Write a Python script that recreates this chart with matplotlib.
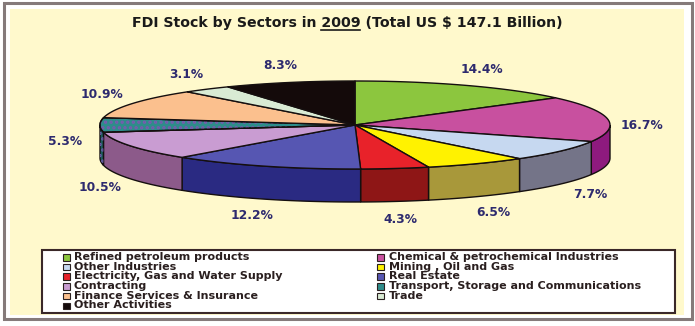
import matplotlib
matplotlib.use("Agg")
import matplotlib.pyplot as plt
import numpy as np
from matplotlib.patches import Polygon, Rectangle

sectors = [
    "Refined petroleum products",
    "Chemical & petrochemical Industries",
    "Other Industries",
    "Mining , Oil and Gas",
    "Electricity, Gas and Water Supply",
    "Real Estate",
    "Contracting",
    "Transport, Storage and Communications",
    "Finance Services & Insurance",
    "Trade",
    "Other Activities",
]
shares = [14.4, 16.7, 7.7, 6.5, 4.3, 12.2, 10.5, 5.3, 10.9, 3.1, 8.3]

top_colors = ["#8cc63e", "#c8509f", "#c6d8f0", "#fff200", "#e8222a", "#5656b2",
              "#c99cd2", "#2e8c8a", "#fbc08e", "#d9ebd4", "#140a0a"]
side_colors = ["#5e8a28", "#8e1a7e", "#747488", "#a8983a", "#8e1616", "#2a2a82",
               "#8c5a8a", "#1d5f5e", "#c08a5a", "#9fb09a", "#000000"]

plt.rcParams['font.family'] = ['DejaVu Sans']
plt.rcParams['hatch.linewidth'] = 1.6

W, H = 695, 326
fig = plt.figure(figsize=(W / 100, H / 100), dpi=100)
ax = fig.add_axes([0, 0, 1, 1])
ax.set_xlim(0, W)
ax.set_ylim(H, 0)
ax.axis('off')

# outer frame and cream panel
ax.add_patch(Rectangle((4, 3), 688, 316, facecolor='white', edgecolor='#857a7a', lw=2.2))
ax.add_patch(Rectangle((10, 9), 674, 306, facecolor='#fff9cc', edgecolor='none'))

cx, cy, a, b, depth = 355, 125, 255, 44, 33
edge = '#150f0f'


def arc(t0, t1, n=80):
    t = np.radians(np.linspace(t0, t1, n))
    return cx + a * np.cos(t), cy - b * np.sin(t)


fracs = np.array(shares) / np.sum(shares)
bounds = 90 - 360 * np.concatenate([[0], np.cumsum(fracs)])

# side walls (only the front half is visible)
for i in range(len(shares)):
    t_hi, t_lo = bounds[i], bounds[i + 1]
    s0, s1 = max(t_lo, -180), min(t_hi, 0)
    if s0 >= s1:
        continue
    x, y = arc(s1, s0)
    pts = np.column_stack([np.concatenate([x, x[::-1]]),
                           np.concatenate([y, y[::-1] + depth])])
    ax.add_patch(Polygon(pts, closed=True, fc=side_colors[i], ec=edge, lw=1))
    if i == 7:
        ax.add_patch(Polygon(pts, closed=True, fill=False, hatch='...',
                             ec='#6a5aa8', lw=0))

# top faces
for i in range(len(shares)):
    x, y = arc(bounds[i], bounds[i + 1])
    pts = np.vstack([[cx, cy], np.column_stack([x, y])])
    ax.add_patch(Polygon(pts, closed=True, fc=top_colors[i], ec=edge, lw=1,
                         joinstyle='round'))
    if i == 7:
        ax.add_patch(Polygon(pts, closed=True, fill=False, hatch='...',
                             ec='#7a5ab0', lw=0))
        ax.add_patch(Polygon(pts, closed=True, fill=False, ec=edge, lw=1))

# percentage labels around the pie
for i, v in enumerate(shares):
    tm = np.radians((bounds[i] + bounds[i + 1]) / 2)
    s = np.sin(tm)
    lx = cx + 290 * np.cos(tm)
    ly = cy - 62 * s + depth * np.clip(0.5 - 1.5 * s, 0, 1)
    ax.text(lx, ly, f"{v:.1f}%", ha='center', va='center', fontsize=8.8,
            fontweight='bold', color='#2d2a6e')

# title with underlined year
title = "FDI Stock by Sectors in 2009 (Total US $ 147.1 Billion)"
tsize = 10.2
t = ax.text(347, 23, title, ha='center', va='center', fontsize=tsize,
            fontweight='bold', color='#1a1a1a')
fig.canvas.draw()
r = fig.canvas.get_renderer()
bb = t.get_window_extent(r)
probe = ax.text(0, 0, "FDI Stock by Sectors in 2009", fontsize=tsize, fontweight='bold')
w_pre = probe.get_window_extent(r).width
probe.set_text("2009")
w_year = probe.get_window_extent(r).width
probe.remove()
ux1 = bb.x0 + w_pre
ux0 = ux1 - w_year
ax.plot([ux0, ux1], [30, 30], color='#1a1a1a', lw=1.2)

# legend box
ax.add_patch(Rectangle((42, 250), 633, 63, facecolor='white', edgecolor='#3a2828', lw=1.5))
col_mark = [63, 377]
col_text = [74, 389]
for i, name in enumerate(sectors):
    row, col = divmod(i, 2)
    y = 257 + row * 9.7
    ax.add_patch(Rectangle((col_mark[col], y - 3), 6.5, 6.5, fc=top_colors[i],
                           ec='#2a2020', lw=0.8))
    ax.text(col_text[col], y, name, ha='left', va='center', fontsize=8.0,
            fontweight='bold', color='#2a1f1f')

fig.savefig("out.png", dpi=100)
